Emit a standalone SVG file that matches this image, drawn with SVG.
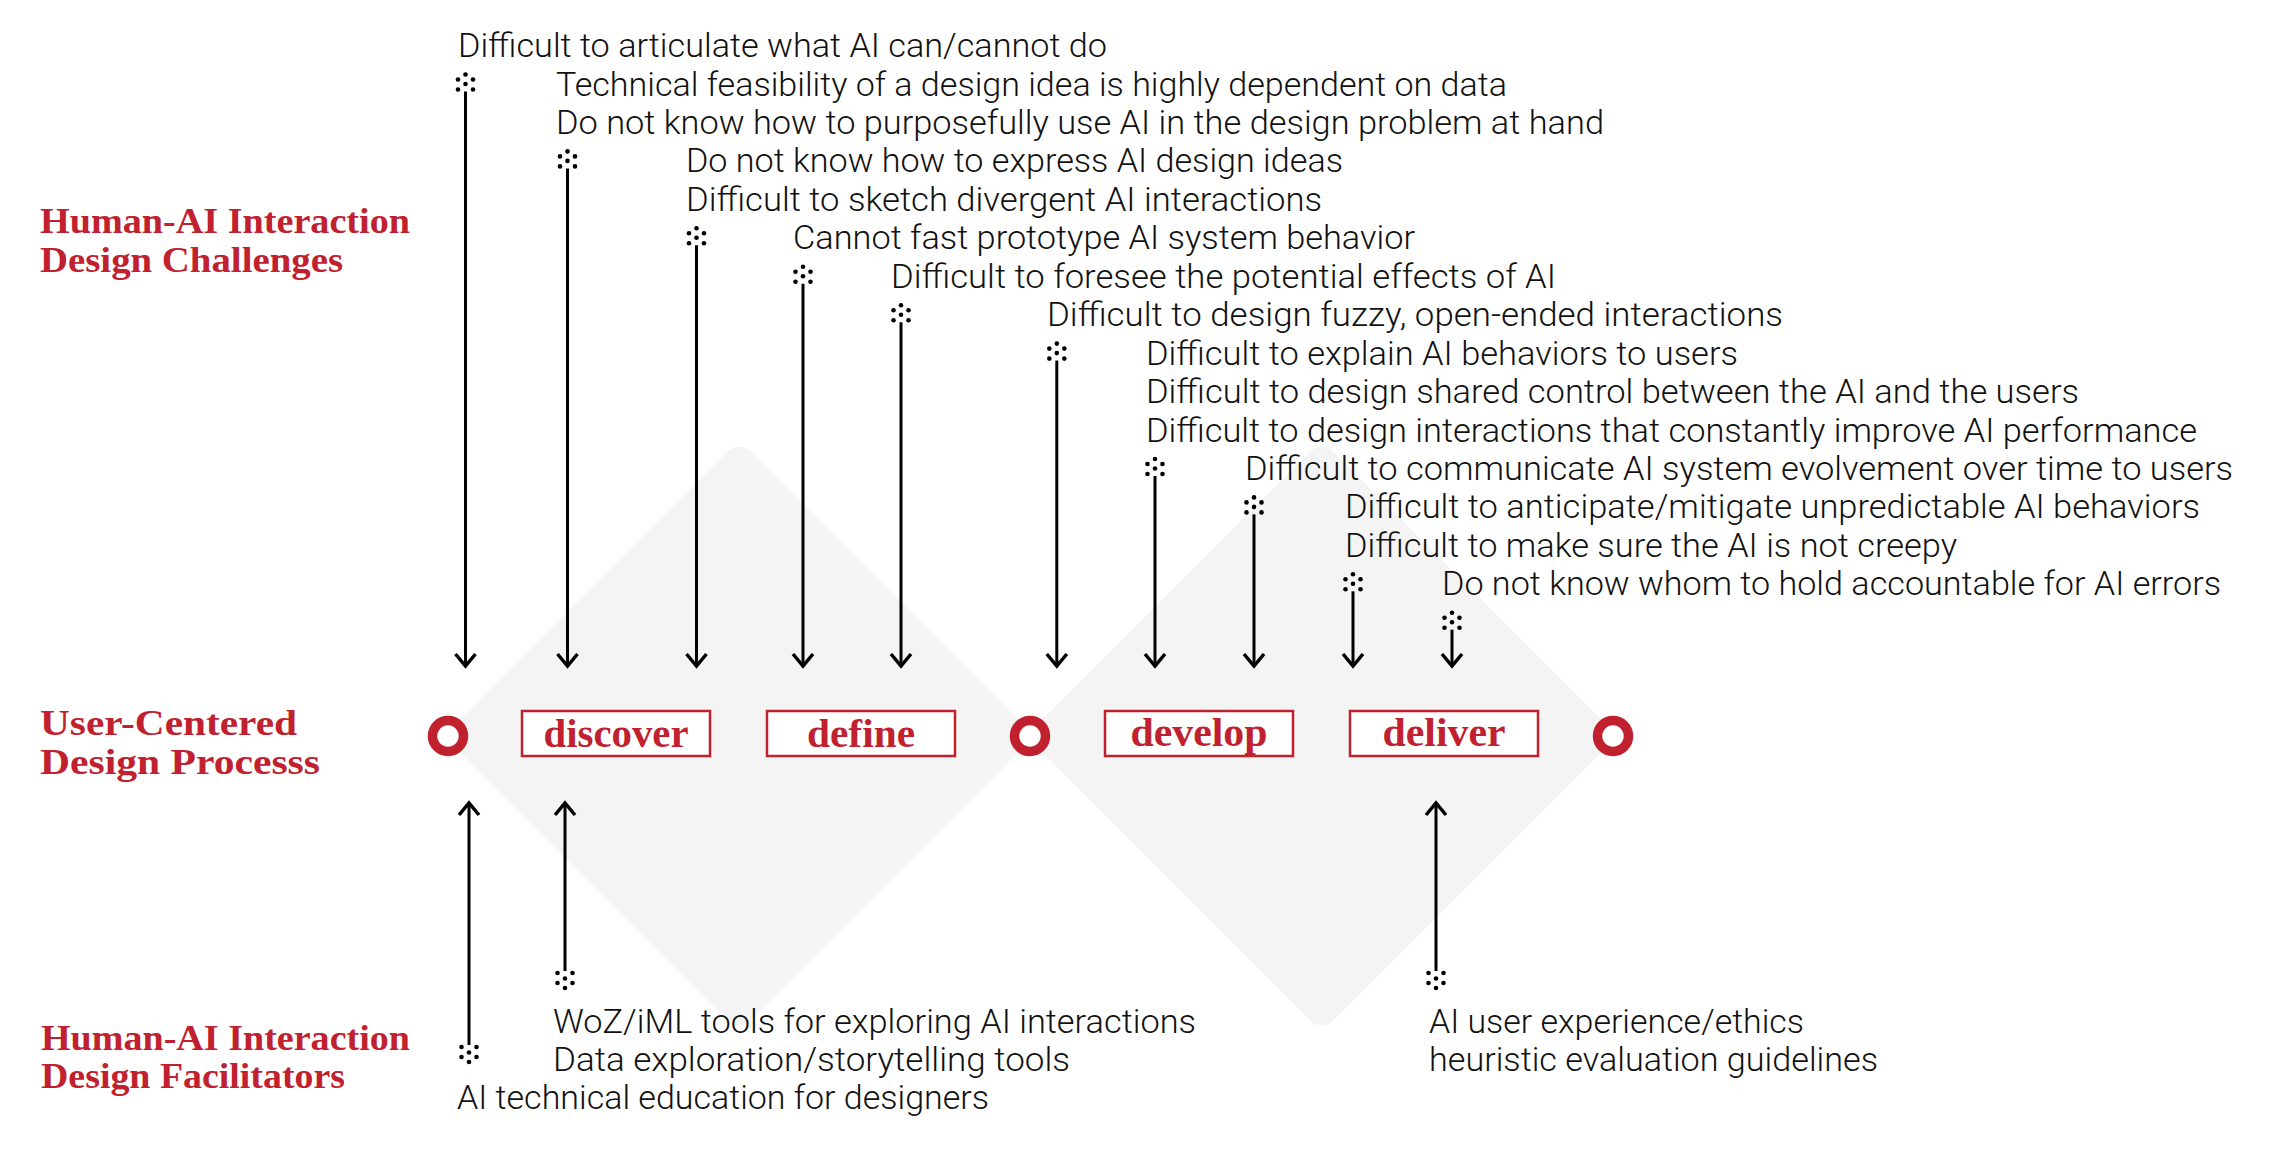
<svg xmlns="http://www.w3.org/2000/svg" width="2272" height="1152" viewBox="0 0 2272 1152">
<style>
.t{font-family:Roboto,"Open Sans","Liberation Sans",sans-serif;font-size:33px;font-weight:300;fill:#111}
.h{font-family:"Liberation Serif",serif;font-weight:bold;font-size:36px;fill:#c1212f}
.s{font-family:"Liberation Serif",serif;font-weight:bold;font-size:40px;fill:#c1212f;text-anchor:middle}
.box{fill:#fff;stroke:#c1212f;stroke-width:2.5}
.ring{fill:#fff;stroke:#c1212f;stroke-width:9.5}
.c{stroke:#000;stroke-width:3;fill:none;marker-start:url(#dots);marker-end:url(#ah)}
.bg{fill:#f4f4f4}
</style>
<defs>
<marker id="ah" markerUnits="userSpaceOnUse" viewBox="-20 -12 24 24" refX="0" refY="0" markerWidth="24" markerHeight="24" orient="auto" overflow="visible">
<path d="M-12,-10 L0,0 L-12,10" fill="none" stroke="#000" stroke-width="3.5"/>
</marker>
<marker id="dots" markerUnits="userSpaceOnUse" viewBox="-20 -12 24 24" refX="0" refY="0" markerWidth="24" markerHeight="24" orient="auto" overflow="visible">
<g fill="#000">
<circle cx="-17" cy="0" r="2.3"/>
<circle cx="-12" cy="-7.5" r="2.3"/>
<circle cx="-12" cy="7.5" r="2.3"/>
<circle cx="-7.5" cy="0" r="2.3"/>
<circle cx="-2" cy="-7.5" r="2.3"/>
<circle cx="-2" cy="7.5" r="2.3"/>
</g>
</marker>
</defs>
<rect width="2272" height="1152" fill="#fff"/>
<g id="background">
<rect class="bg" x="-209.3" y="-209.3" width="418.6" height="418.6" rx="16" transform="translate(739,736) rotate(45)"/>
<rect class="bg" x="-209.3" y="-209.3" width="418.6" height="418.6" rx="16" transform="translate(1321.5,736) rotate(45)"/>
</g>
<g id="titles">
<g id="title-challenges"><text class="h" x="40" y="233" textLength="370" lengthAdjust="spacingAndGlyphs">Human-AI Interaction</text><text class="h" x="40" y="272" textLength="303" lengthAdjust="spacingAndGlyphs">Design Challenges</text></g>
<g id="title-process"><text class="h" x="40" y="735" textLength="257" lengthAdjust="spacingAndGlyphs">User-Centered</text><text class="h" x="40" y="774" textLength="280" lengthAdjust="spacingAndGlyphs">Design Processs</text></g>
<g id="title-facilitators"><text class="h" x="41" y="1050" textLength="369" lengthAdjust="spacingAndGlyphs">Human-AI Interaction</text><text class="h" x="41" y="1088" textLength="304" lengthAdjust="spacingAndGlyphs">Design Facilitators</text></g>
</g>
<g id="connectors">
<line class="c" x1="465.5" y1="91.5" x2="465.5" y2="666"/>
<line class="c" x1="567.5" y1="168.4" x2="567.5" y2="666"/>
<line class="c" x1="696.5" y1="245.3" x2="696.5" y2="666"/>
<line class="c" x1="803" y1="283.7" x2="803" y2="666"/>
<line class="c" x1="901" y1="322.2" x2="901" y2="666"/>
<line class="c" x1="1056.8" y1="360.6" x2="1056.8" y2="666"/>
<line class="c" x1="1155" y1="476" x2="1155" y2="666"/>
<line class="c" x1="1254" y1="514.4" x2="1254" y2="666"/>
<line class="c" x1="1353" y1="591.3" x2="1353" y2="666"/>
<line class="c" x1="1452" y1="629.7" x2="1452" y2="666"/>
<line class="c" x1="469" y1="1045" x2="469" y2="803"/>
<line class="c" x1="565" y1="971" x2="565" y2="803"/>
<line class="c" x1="1436" y1="971" x2="1436" y2="803"/>
</g>
<g id="challenges">
<g id="ch1"><text class="t" x="458" y="57" textLength="649" lengthAdjust="spacingAndGlyphs">Difficult to articulate what AI can/cannot do</text></g>
<g id="ch2"><text class="t" x="556" y="95.5" textLength="951" lengthAdjust="spacingAndGlyphs">Technical feasibility of a design idea is highly dependent on data</text></g>
<g id="ch3"><text class="t" x="556" y="134" textLength="1048" lengthAdjust="spacingAndGlyphs">Do not know how to purposefully use AI in the design problem at hand</text></g>
<g id="ch4"><text class="t" x="686" y="172.4" textLength="657" lengthAdjust="spacingAndGlyphs">Do not know how to express AI design ideas</text></g>
<g id="ch5"><text class="t" x="686" y="210.8" textLength="636" lengthAdjust="spacingAndGlyphs">Difficult to sketch divergent AI interactions</text></g>
<g id="ch6"><text class="t" x="793" y="249.3" textLength="622" lengthAdjust="spacingAndGlyphs">Cannot fast prototype AI system behavior</text></g>
<g id="ch7"><text class="t" x="891" y="287.7" textLength="665" lengthAdjust="spacingAndGlyphs">Difficult to foresee the potential effects of AI</text></g>
<g id="ch8"><text class="t" x="1047" y="326.2" textLength="736" lengthAdjust="spacingAndGlyphs">Difficult to design fuzzy, open-ended interactions</text></g>
<g id="ch9"><text class="t" x="1146" y="364.6" textLength="592" lengthAdjust="spacingAndGlyphs">Difficult to explain AI behaviors to users</text></g>
<g id="ch10"><text class="t" x="1146" y="403" textLength="933" lengthAdjust="spacingAndGlyphs">Difficult to design shared control between the AI and the users</text></g>
<g id="ch11"><text class="t" x="1146" y="441.5" textLength="1051" lengthAdjust="spacingAndGlyphs">Difficult to design interactions that constantly improve AI performance</text></g>
<g id="ch12"><text class="t" x="1245" y="480" textLength="988" lengthAdjust="spacingAndGlyphs">Difficult to communicate AI system evolvement over time to users</text></g>
<g id="ch13"><text class="t" x="1345" y="518.4" textLength="855" lengthAdjust="spacingAndGlyphs">Difficult to anticipate/mitigate unpredictable AI behaviors</text></g>
<g id="ch14"><text class="t" x="1345" y="556.9" textLength="612" lengthAdjust="spacingAndGlyphs">Difficult to make sure the AI is not creepy</text></g>
<g id="ch15"><text class="t" x="1442" y="595.3" textLength="779" lengthAdjust="spacingAndGlyphs">Do not know whom to hold accountable for AI errors</text></g>
</g>
<g id="process">
<g id="start"><circle class="ring" cx="448" cy="736" r="15.5"/></g>
<g id="discover"><rect class="box" x="522" y="711" width="188" height="45"/><text class="s" x="616" y="747" textLength="145" lengthAdjust="spacingAndGlyphs">discover</text></g>
<g id="define"><rect class="box" x="767" y="711" width="188" height="45"/><text class="s" x="861" y="747" textLength="108" lengthAdjust="spacingAndGlyphs">define</text></g>
<g id="mid"><circle class="ring" cx="1030" cy="736" r="15.5"/></g>
<g id="develop"><rect class="box" x="1105" y="711" width="188" height="45"/><text class="s" x="1199" y="746" textLength="137" lengthAdjust="spacingAndGlyphs">develop</text></g>
<g id="deliver"><rect class="box" x="1350" y="711" width="188" height="45"/><text class="s" x="1444" y="746" textLength="123" lengthAdjust="spacingAndGlyphs">deliver</text></g>
<g id="end"><circle class="ring" cx="1613" cy="736" r="15.5"/></g>
</g>
<g id="facilitators">
<g id="fa1"><text class="t" x="553" y="1033" textLength="643" lengthAdjust="spacingAndGlyphs">WoZ/iML tools for exploring AI interactions</text></g>
<g id="fa2"><text class="t" x="553" y="1071" textLength="517" lengthAdjust="spacingAndGlyphs">Data exploration/storytelling tools</text></g>
<g id="fa3"><text class="t" x="457" y="1109" textLength="532" lengthAdjust="spacingAndGlyphs">AI technical education for designers</text></g>
<g id="fa4"><text class="t" x="1429" y="1033" textLength="375" lengthAdjust="spacingAndGlyphs">AI user experience/ethics</text><text class="t" x="1429" y="1071" textLength="449" lengthAdjust="spacingAndGlyphs">heuristic evaluation guidelines</text></g>
</g>
</svg>
